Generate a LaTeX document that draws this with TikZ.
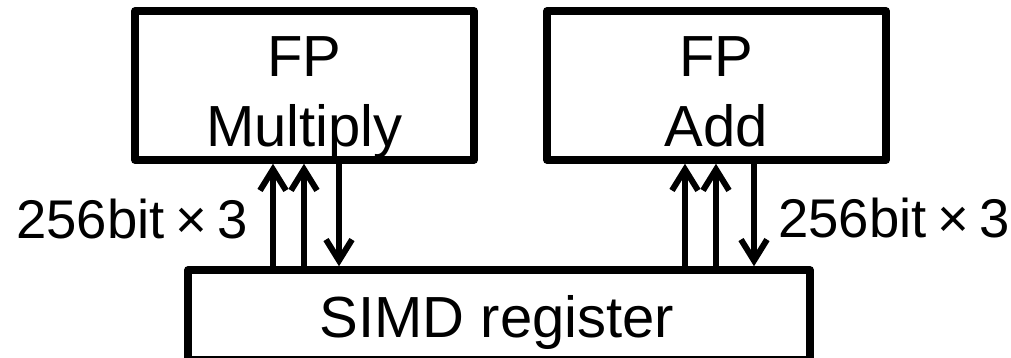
\documentclass[tikz,border=0pt]{standalone}
\usepackage{fontspec}
\setmainfont{Liberation Sans}
\usetikzlibrary{arrows.meta}
\begin{document}
\begin{tikzpicture}[x=1pt,y=-1pt,
  box/.style={draw, line width=7.5pt, line join=round, inner sep=0pt, minimum width=339pt, minimum height=149pt},
  bigtxt/.style={inner sep=0pt, font=\fontsize{58}{70}\selectfont},
  lbl/.style={inner sep=0pt, font=\fontsize{54.5}{66}\selectfont},
  conn/.style={line width=6pt, -{Straight Barb[length=21pt,width=26pt]}}
]
\useasboundingbox (0,0) rectangle (1011,358);
% boxes
\node[box] (mul) at (304.5,85.5) {};
\node[box] (add) at (716.5,85.5) {};
\node[box, minimum width=622pt, minimum height=90pt] (simd) at (499,315) {};
% texts
\node[bigtxt, anchor=base] (mulA) at (304.5,77) {FP};
\node[bigtxt, anchor=base] (mulB) at (304.5,147) {Multiply};
\node[bigtxt, anchor=base] (addA) at (716.5,77) {FP};
\node[bigtxt, anchor=base] (addB) at (716.5,147) {Add};
\node[bigtxt, anchor=base] (simdT) at (497,337) {SIMD register};
\node[lbl, anchor=base west] (lblL) at (16,238) {256bit\makebox[0.97em]{×}3};
\node[lbl, anchor=base east] (lblR) at (1010,237) {256bit\makebox[0.97em]{×}3};
% arrow columns
\coordinate (c1) at (273,0);
\coordinate (c2) at (304,0);
\coordinate (c3) at (339,0);
\coordinate (c4) at (685,0);
\coordinate (c5) at (716,0);
\coordinate (c6) at (754,0);
\draw[conn] (simd.north -| c1) -- (mul.south -| c1);
\draw[conn] (simd.north -| c2) -- (mul.south -| c2);
\draw[conn] (mul.south -| c3) -- (simd.north -| c3);
\draw[conn] (simd.north -| c4) -- (add.south -| c4);
\draw[conn] (simd.north -| c5) -- (add.south -| c5);
\draw[conn] (add.south -| c6) -- (simd.north -| c6);
\end{tikzpicture}
\end{document}
